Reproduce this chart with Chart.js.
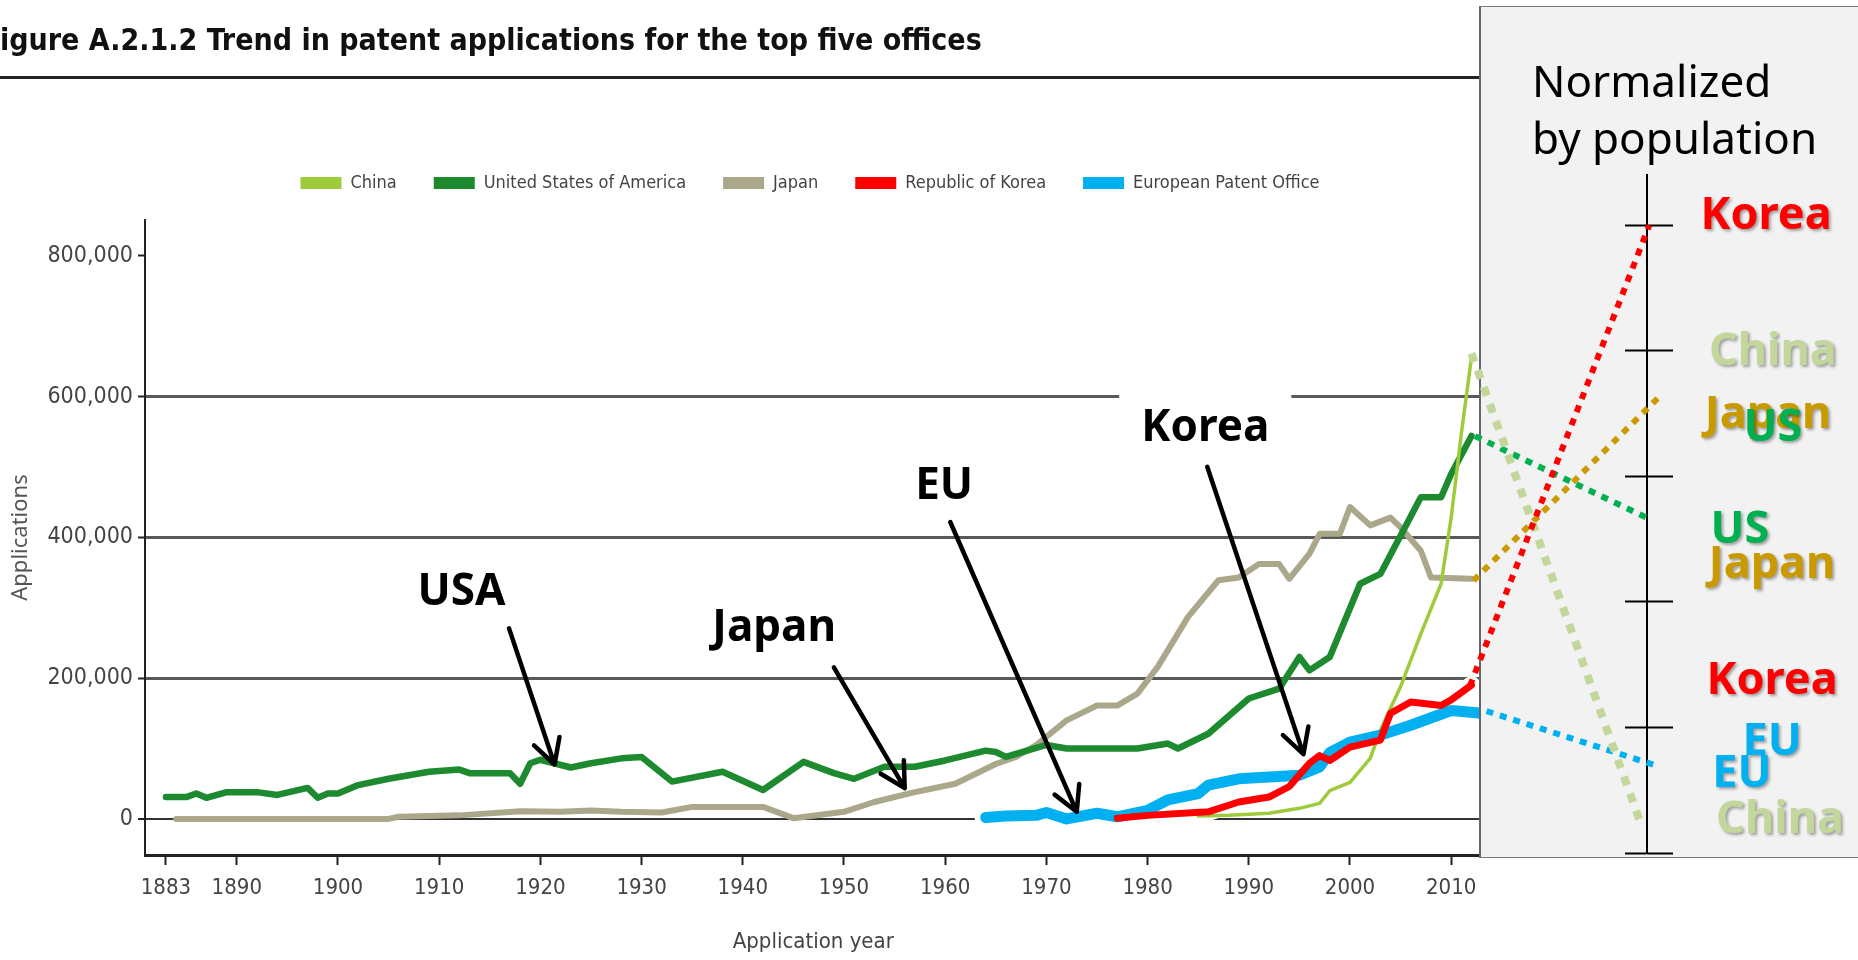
<!DOCTYPE html>
<html>
<head>
<meta charset="utf-8">
<title>Trend in patent applications for the top five offices</title>
<script src="https://cdn.jsdelivr.net/npm/chart.js@4.4.0/dist/chart.umd.min.js"></script>
<style>
  html, body { margin: 0; padding: 0; background: #fff; }
  body { width: 1858px; height: 960px; position: relative; overflow: hidden; }
  #applications { position: absolute; left: 0; top: 0; }
  #panelBox { position: absolute; left: 1479px; top: 6px; width: 379px; height: 852px;
              background: #f2f2f2; border: 1px solid #777; border-left: 2px solid #666; border-right: none;
              box-sizing: border-box; }
  #normalized { position: absolute; left: 1462px; top: 0; }
</style>
</head>
<body>
<canvas id="applications" width="1620" height="960"></canvas>
<div id="panelBox"></div>
<canvas id="normalized" width="396" height="960"></canvas>
<script>
// patent applications per office
const chinaYears = [1985, 1988, 1992, 1995, 1997, 1998, 2000, 2002, 2003, 2005, 2007, 2009, 2010, 2011, 2012];
const chinaApps = [4000, 5000, 8000, 15000, 22000, 40000, 52000, 86000, 126000, 188000, 263000, 334000, 428000, 547000, 655000];

const usYears = [1883, 1885, 1886, 1887, 1889, 1892, 1894, 1897, 1898, 1899, 1900, 1902, 1905, 1909, 1912, 1913, 1917, 1918,
  1919, 1920, 1923, 1925, 1928, 1930, 1933, 1938, 1942, 1946, 1949, 1951, 1954, 1957, 1960, 1964, 1965, 1966, 1970, 1972,
  1975, 1979, 1982, 1983, 1986, 1990, 1993, 1995, 1996, 1998, 2001, 2003, 2007, 2009, 2010, 2012];
const usApps = [31000, 31000, 36000, 30000, 38000, 38000, 34000, 44000, 30000, 36000, 36000, 48000, 57000, 67000, 70000,
  65000, 65000, 50000, 79000, 84000, 73000, 79000, 86000, 88000, 53000, 67000, 41000, 81000, 65000, 57000, 74000, 74000,
  83000, 97000, 95000, 88000, 105000, 100000, 100000, 100000, 107000, 100000, 121000, 171000, 185000, 230000, 211000,
  230000, 334000, 348000, 457000, 457000, 490000, 544000];

const japanYears = [1884, 1905, 1906, 1912, 1918, 1922, 1925, 1928, 1932, 1935, 1941, 1942, 1945, 1950, 1953, 1957, 1961,
  1965, 1967, 1969, 1972, 1975, 1977, 1979, 1981, 1984, 1987, 1989, 1991, 1993, 1994, 1996, 1997, 1999, 2000, 2002, 2004,
  2005, 2007, 2008, 2012];
const japanApps = [0, 0, 3000, 5000, 11000, 10000, 12000, 10000, 9000, 17000, 17000, 17000, 1000, 10000, 24000, 38000,
  50000, 78000, 88000, 105000, 140000, 161000, 161000, 178000, 216000, 287000, 339000, 343000, 362000, 362000, 341000,
  377000, 405000, 405000, 443000, 417000, 428000, 414000, 381000, 343000, 341000];

const koreaYears = [1977, 1980, 1986, 1989, 1992, 1994, 1996, 1997, 1998, 2000, 2003, 2004, 2006, 2009, 2010, 2012];
const koreaApps = [1000, 5000, 10000, 24000, 31000, 46000, 79000, 90000, 83000, 102000, 112000, 150000, 166000, 161000,
  169000, 190000];

const epoYears = [1964, 1966, 1969, 1970, 1972, 1975, 1977, 1980, 1982, 1985, 1986, 1989, 1995, 1997, 1998, 2000, 2003,
  2006, 2010, 2013];
const epoApps = [2000, 4000, 5000, 9000, 0, 8000, 3000, 12000, 27000, 36000, 48000, 57000, 62000, 74000, 94000, 109000,
  119000, 133000, 154000, 150000];

const yearTicks = [1883, 1890, 1900, 1910, 1920, 1930, 1940, 1950, 1960, 1970, 1980, 1990, 2000, 2010];
const appTicks = [0, 200000, 400000, 600000, 800000];

// call-outs on the main chart
const noteText = ['USA', 'Japan', 'EU', 'Korea'];
const noteYear = [1912.2, 1943.1, 1959.9, 1985.7];
const noteApps = [321000, 270600, 472300, 554000];
const arrowFromYear = [1916.9, 1949.0, 1960.5, 1985.9];
const arrowFromApps = [270600, 215100, 421800, 500000];
const arrowToYear = [1921.4, 1956.0, 1973.0, 1995.4];
const arrowToApps = [77300, 43700, 10100, 92000];

// normalized-by-population panel
const normNames = ['Korea', 'China', 'Japan', 'US', 'EU'];
const normColors = ['#ff0000', '#c3d69b', '#cc9900', '#00b050', '#00b0f0'];
const normFromX = [2.0, 2.4, 2.9, 3.3, 6.2];
const normFrom = [1.33, 3.98, 2.17, 3.32, 1.13];
const normToX = [47.3, 45.2, 49.7, 46.7, 49.7];
const normTo = [5.0, 0.23, 3.63, 2.67, 0.69];
const normTicks = [0, 1, 2, 3, 4, 5];

const tagText = ['Korea', 'China', 'Japan', 'US', 'US', 'Japan', 'Korea', 'EU', 'EU', 'China'];
const tagColor = ['#ff0000', '#c3d69b', '#c99a00', '#00b050', '#00b050', '#c99a00', '#ff0000', '#00b0f0', '#00b0f0', '#c3d69b'];
const tagX = [76.8, 78.5, 77.3, 78.5, 70.2, 78.3, 78.3, 78.3, 70.7, 80.3];
const tagY = [5.07, 3.99, 3.49, 3.38, 2.57, 2.29, 1.37, 0.88, 0.63, 0.26];
const panelHeading = ['Normalized', 'by population'];

const narrow = '"Liberation Sans Narrow", "DejaVu Sans Condensed", sans-serif';

function pts(xs, ys) {
  return xs.map((x, i) => ({x: x, y: ys[i]}));
}
function thousands(v) {
  return String(v).replace(/\B(?=(\d{3})+(?!\d))/g, ',');
}

const notes = {
  id: 'notes',
  afterDatasetsDraw(chart) {
    const {ctx} = chart;
    const x = chart.scales.x, y = chart.scales.y;
    ctx.save();
    ctx.font = 'bold 44px "Noto Sans"';
    ctx.textAlign = 'center';
    ctx.textBaseline = 'middle';
    noteText.forEach((t, i) => {
      const cx = x.getPixelForValue(noteYear[i]);
      const cy = y.getPixelForValue(noteApps[i]);
      const w = ctx.measureText(t).width;
      ctx.fillStyle = '#fff';
      ctx.fillRect(cx - w / 2 - 22, cy - 40, w + 44, 66);
      ctx.fillStyle = '#000';
      ctx.fillText(t, cx, cy);
    });
    ctx.strokeStyle = '#000';
    ctx.lineWidth = 4.5;
    ctx.lineCap = 'round';
    ctx.lineJoin = 'round';
    noteText.forEach((t, i) => {
      const x1 = x.getPixelForValue(arrowFromYear[i]), y1 = y.getPixelForValue(arrowFromApps[i]);
      const x2 = x.getPixelForValue(arrowToYear[i]), y2 = y.getPixelForValue(arrowToApps[i]);
      const a = Math.atan2(y2 - y1, x2 - x1);
      ctx.beginPath();
      ctx.moveTo(x1, y1);
      ctx.lineTo(x2, y2);
      ctx.moveTo(x2 - 28 * Math.cos(a - 0.5), y2 - 28 * Math.sin(a - 0.5));
      ctx.lineTo(x2, y2);
      ctx.lineTo(x2 - 28 * Math.cos(a + 0.5), y2 - 28 * Math.sin(a + 0.5));
      ctx.stroke();
    });
    ctx.restore();
  },
  afterDraw(chart) {
    const {ctx} = chart;
    const x = chart.scales.x;
    ctx.save();
    // rule under the figure title
    ctx.fillStyle = '#222';
    ctx.fillRect(0, 76, chart.width, 3);
    // x axis title, centred under the visible year span
    ctx.fillStyle = '#444';
    ctx.font = '22px ' + narrow;
    ctx.textAlign = 'center';
    ctx.textBaseline = 'middle';
    ctx.fillText('Application year', (x.left + x.getPixelForValue(2013)) / 2, 942);
    ctx.restore();
  }
};

const base = {pointRadius: 0, tension: 0, fill: false, borderJoinStyle: 'round', borderCapStyle: 'round'};

new Chart(document.getElementById('applications'), {
  type: 'line',
  data: {
    datasets: [
      Object.assign({label: 'China', data: pts(chinaYears, chinaApps), borderColor: '#9dcb3c', backgroundColor: '#9dcb3c', borderWidth: 3.5, order: 3}, base),
      Object.assign({label: 'United States of America', data: pts(usYears, usApps), borderColor: '#1e8a2f', backgroundColor: '#1e8a2f', borderWidth: 6.5, order: 3}, base),
      Object.assign({label: 'Japan', data: pts(japanYears, japanApps), borderColor: '#aaa78a', backgroundColor: '#aaa78a', borderWidth: 6, order: 4}, base),
      Object.assign({label: 'Republic of Korea', data: pts(koreaYears, koreaApps), borderColor: '#ff0000', backgroundColor: '#ff0000', borderWidth: 7, order: 1}, base),
      Object.assign({label: 'European Patent Office', data: pts(epoYears, epoApps), borderColor: '#00b0f0', backgroundColor: '#00b0f0', borderWidth: 11, order: 2}, base),
      Object.assign({label: '', data: pts(epoYears, epoApps), borderColor: '#ffffff', borderWidth: 22, order: 10}, base),
      Object.assign({label: '', data: pts(koreaYears, koreaApps), borderColor: '#ffffff', borderWidth: 18, order: 10}, base)
    ]
  },
  options: {
    responsive: false,
    animation: false,
    layout: {padding: 0},
    plugins: {
      tooltip: {enabled: false},
      title: {
        display: true,
        align: 'start',
        text: 'igure A.2.1.2 Trend in patent applications for the top five offices',
        color: '#111',
        font: {family: narrow, weight: 'bold', size: 30},
        padding: {top: 24, bottom: 77}
      },
      // spacer between legend and plot area
      subtitle: {display: true, text: ' ', weight: 500, font: {size: 10}, padding: {top: 0, bottom: 6}},
      legend: {
        position: 'top',
        labels: {
          boxWidth: 41,
          boxHeight: 12,
          padding: 37,
          color: '#444',
          font: {family: narrow, size: 18},
          generateLabels: chart => Chart.defaults.plugins.legend.labels.generateLabels(chart)
            .filter(item => item.text !== '')
            .sort((a, b) => a.datasetIndex - b.datasetIndex)
            .map(item => Object.assign(item, {lineWidth: 0}))
        }
      }
    },
    scales: {
      x: {
        type: 'linear',
        min: 1880.93,
        max: 2026.68,
        afterBuildTicks: s => { s.ticks = yearTicks.map(v => ({value: v})); },
        afterFit: s => { s.height = 105; },
        ticks: {callback: v => String(v), color: '#444', font: {family: narrow, size: 22}, padding: 10, maxRotation: 0, autoSkip: false},
        grid: {drawOnChartArea: false, tickLength: 10, tickColor: '#222', tickWidth: 2},
        border: {color: '#222', width: 3}
      },
      y: {
        min: -51300,
        max: 850800,
        afterBuildTicks: s => { s.ticks = appTicks.map(v => ({value: v})); },
        afterFit: s => { s.width = 145; },
        ticks: {callback: v => thousands(v), color: '#444', font: {family: narrow, size: 23}, padding: 5},
        grid: {
          color: c => c.tick.value === 800000 ? 'rgba(0,0,0,0)' : (c.tick.value === 0 ? '#333' : '#595959'),
          lineWidth: c => c.tick.value === 0 ? 2 : 3,
          tickColor: '#222',
          tickLength: 7,
          tickWidth: 2
        },
        border: {color: '#222', width: 2},
        title: {display: true, text: 'Applications', color: '#555', font: {family: '"Noto Sans"', size: 22}, padding: {top: 8, bottom: 0}}
      }
    }
  },
  plugins: [notes]
});

const panelText = {
  id: 'panelText',
  afterDraw(chart) {
    const {ctx} = chart;
    const x = chart.scales.x, y = chart.scales.yn;
    ctx.save();
    ctx.fillStyle = '#000';
    ctx.font = '44px "Noto Sans"';
    ctx.textAlign = 'left';
    ctx.textBaseline = 'middle';
    panelHeading.forEach((t, i) => ctx.fillText(t, 70, 84 + i * 57));
    ctx.font = 'bold 45px "Noto Sans"';
    ctx.textAlign = 'center';
    ctx.shadowColor = 'rgba(0,0,0,0.35)';
    ctx.shadowOffsetX = 2;
    ctx.shadowOffsetY = 2;
    ctx.shadowBlur = 3;
    tagText.forEach((t, i) => {
      ctx.fillStyle = tagColor[i];
      ctx.fillText(t, x.getPixelForValue(tagX[i]), y.getPixelForValue(tagY[i]));
    });
    ctx.restore();
  }
};

new Chart(document.getElementById('normalized'), {
  type: 'line',
  data: {
    datasets: normNames.map((n, i) => ({
      label: n,
      data: [{x: normFromX[i], y: normFrom[i]}, {x: normToX[i], y: normTo[i]}],
      borderColor: normColors[i],
      borderWidth: n === 'China' ? 8 : 6,
      borderDash: n === 'China' ? [9, 9] : [7, 7],
      borderCapStyle: 'butt',
      pointRadius: 0,
      clip: false,
      yAxisID: 'yn'
    }))
  },
  options: {
    responsive: false,
    animation: false,
    layout: {padding: {top: 175, bottom: 107, left: 0, right: 0}},
    plugins: {legend: {display: false}, tooltip: {enabled: false}},
    scales: {
      x: {type: 'linear', min: 0, max: 100, display: false},
      yn: {
        axis: 'y', type: 'linear', min: 0, max: 5.4, position: {x: 46.7},
        afterBuildTicks: s => { s.ticks = normTicks.map(v => ({value: v})); },
        ticks: {display: false},
        grid: {drawOnChartArea: false, tickLength: 21, tickWidth: 2, tickColor: '#000'},
        border: {display: true, color: '#000', width: 2}
      },
      yn2: {
        axis: 'y', type: 'linear', min: 0, max: 5.4, position: {x: 46.7},
        afterBuildTicks: s => { s.ticks = normTicks.map(v => ({value: v})); },
        ticks: {display: false},
        grid: {drawOnChartArea: false, tickLength: -26, tickWidth: 2, tickColor: '#000'},
        border: {display: false}
      }
    }
  },
  plugins: [panelText]
});
</script>
</body>
</html>
